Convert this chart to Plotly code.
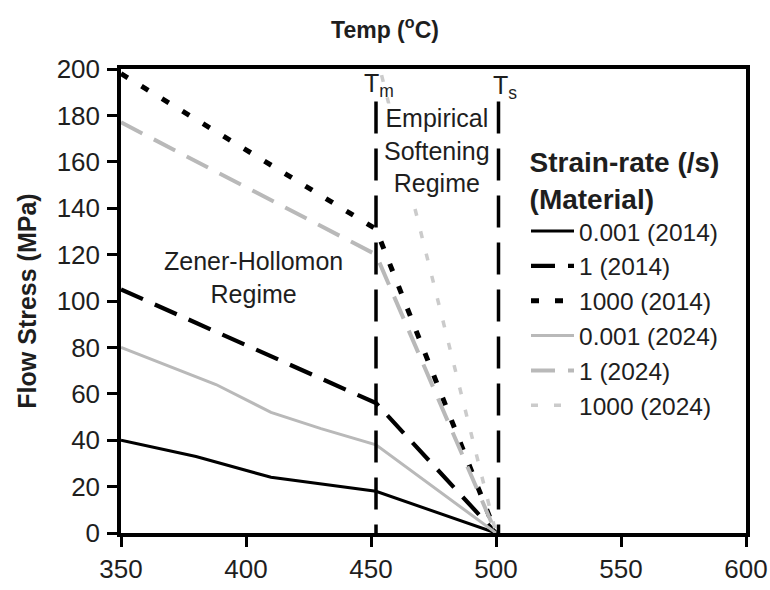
import plotly.graph_objects as go

# ---- data ----
temp_2014_slow = [350, 380, 410, 430, 452, 500]
stress_2014_slow = [40, 33, 24, 21, 18, 0]

temp_2014_mid = [350, 452, 500]
stress_2014_mid = [105, 56, 0]

temp_2014_fast = [350, 452, 500]
stress_2014_fast = [198, 131, 0]

temp_2024_slow = [350, 388, 410, 430, 452, 500]
stress_2024_slow = [80, 64, 52, 45, 38, 0]

temp_2024_mid = [350, 452, 500]
stress_2024_mid = [177, 120, 0]

temp_2024_fast = [452, 500]
stress_2024_fast = [207, 0]

series_names = ["0.001 (2014)", "1 (2014)", "1000 (2014)",
                "0.001 (2024)", "1 (2024)", "1000 (2024)"]

tm_temp = 452
ts_temp = 501
regime_line_top = 186

x_ticks = [350, 400, 450, 500, 550, 600]
y_ticks = [0, 20, 40, 60, 80, 100, 120, 140, 160, 180, 200]

FONT = "Arial, Liberation Sans, sans-serif"
BLACK = "#000000"
GREY = "#b9b9b9"
LGREY = "#cbcbcb"
TXT = "#1e1e1e"

fig = go.Figure()

styles = [
    (temp_2014_slow, stress_2014_slow, BLACK, 3, "solid"),
    (temp_2014_mid, stress_2014_mid, BLACK, 4.2, "24px,13px"),
    (temp_2014_fast, stress_2014_fast, BLACK, 5, "8px,16px"),
    (temp_2024_slow, stress_2024_slow, GREY, 3, "solid"),
    (temp_2024_mid, stress_2024_mid, GREY, 4, "24px,13px"),
    (temp_2024_fast, stress_2024_fast, LGREY, 3.5, "7px,16px"),
]
for (xs, ys, col, w, dash), name in zip(styles, series_names):
    fig.add_trace(go.Scatter(x=xs, y=ys, mode="lines", name=name,
                             line=dict(color=col, width=w, dash=dash)))

# regime boundaries
for t in (tm_temp, ts_temp):
    fig.add_shape(type="line", x0=t, x1=t, y0=regime_line_top, y1=0,
                  xref="x", yref="y",
                  line=dict(color=BLACK, width=3.5, dash="32px,15px"))

fig.add_annotation(x=tm_temp, y=regime_line_top, xref="x", yref="y",
                   text="T<sub>m</sub>", showarrow=False, yanchor="bottom",
                   xshift=3, yshift=-2, font=dict(family=FONT, size=25, color=TXT))
fig.add_annotation(x=ts_temp, y=regime_line_top, xref="x", yref="y",
                   text="T<sub>s</sub>", showarrow=False, yanchor="bottom",
                   xshift=6, yshift=-4, font=dict(family=FONT, size=25, color=TXT))

fig.add_annotation(x=(tm_temp + ts_temp) / 2, y=regime_line_top - 0.5, xref="x", yref="y",
                   text="Empirical<br>Softening<br>Regime", showarrow=False,
                   yanchor="top", bgcolor="white", borderpad=0, xshift=0,
                   font=dict(family=FONT, size=25, color=TXT))
fig.add_annotation(x=403, y=110, xref="x", yref="y",
                   text="Zener-Hollomon<br>Regime", showarrow=False,
                   font=dict(family=FONT, size=25, color=TXT))

fig.update_layout(
    width=770, height=590,
    margin=dict(l=121, r=24, t=69, b=57),
    paper_bgcolor="white", plot_bgcolor="white",
    font=dict(family=FONT, color=TXT),
    title=dict(text="<b>Temp (<sup>o</sup>C)</b>", x=0.5, xref="container",
               y=1 - 30 / 590, yanchor="middle", xanchor="center",
               font=dict(family=FONT, size=23, color=TXT)),
    showlegend=True,
    legend=dict(x=0.648, y=0.856, xanchor="left", yanchor="top",
                bgcolor="rgba(255,255,255,0)", borderwidth=0,
                font=dict(family=FONT, size=24.5, color=TXT),
                itemwidth=43,
                title=dict(text="<b>Strain-rate (/s)</b><br><b>(Material)</b>",
                           side="top center",
                           font=dict(family=FONT, size=28, color=TXT))),
)

fig.update_xaxes(range=[350, 600], tickvals=x_ticks, ticktext=[str(v) for v in x_ticks],
                 showgrid=False, zeroline=False, showline=True, linewidth=3.5,
                 linecolor=BLACK, mirror=True, ticks="outside", ticklen=10,
                 tickwidth=3, tickcolor=BLACK, automargin=False,
                 ticklabelstandoff=0,
                 tickfont=dict(family=FONT, size=26, color=TXT))
fig.update_yaxes(range=[0, 200], tickvals=y_ticks, ticktext=[str(v) for v in y_ticks],
                 showgrid=False, zeroline=False, showline=True, linewidth=3.5,
                 linecolor=BLACK, mirror=True, ticks="outside", ticklen=10,
                 tickwidth=3, tickcolor=BLACK, ticklabelstandoff=2,
                 tickfont=dict(family=FONT, size=26, color=TXT),
                 title=dict(text="<b>Flow Stress (MPa)</b>", standoff=14,
                            font=dict(family=FONT, size=25, color=TXT)))

fig.write_html("out.html")
